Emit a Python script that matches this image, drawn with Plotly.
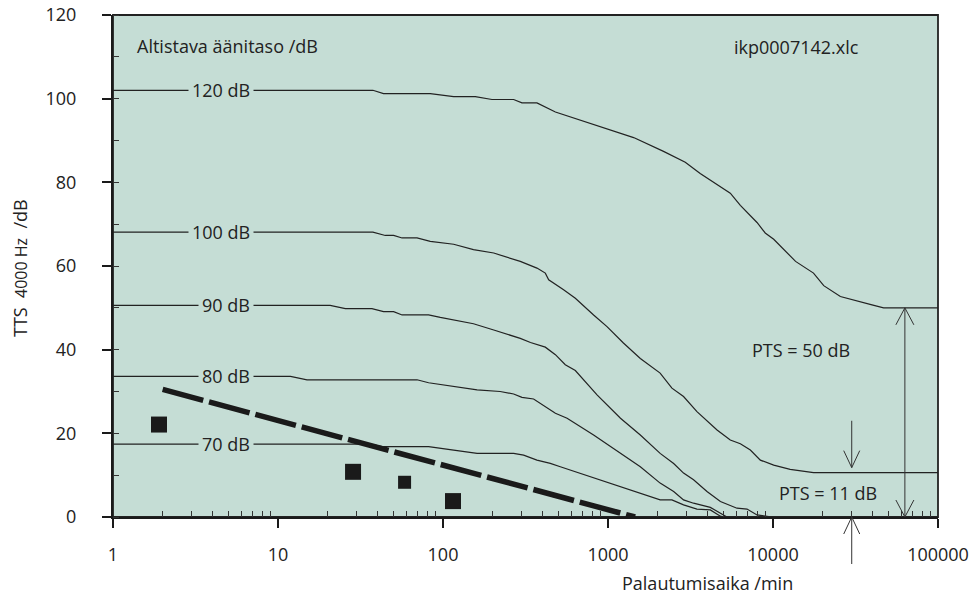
import numpy as np
import plotly.graph_objects as go

# ---------------- data ----------------
level_labels = ["120 dB", "100 dB", "90 dB", "80 dB", "70 dB"]

c120_x = [1, 37.6, 43.6, 83.7, 116, 157, 198, 268, 301, 371, 480, 818, 986, 1430, 2170, 2940,
          3620, 5510, 6340, 8000, 8970, 10100, 13700, 17600, 20300, 25600, 39800, 46800, 100000]
c120_y = [102, 102, 101.2, 101.2, 100.5, 100.5, 99.8, 99.8, 99.0, 99.0, 96.8, 93.9, 92.8, 90.7, 87.4, 84.8,
          82.1, 77.4, 74.5, 70.4, 67.9, 66.4, 61.1, 58.3, 55.3, 52.7, 50.7, 50.0, 50.0]

c100_x = [1, 37.6, 44.7, 50.2, 56.5, 69.6, 83.7, 116, 153, 203, 294, 371, 417, 437, 538, 634, 818, 986,
          1240, 1570, 2070, 2440, 2870, 3460, 4580, 5510, 6340, 7290, 8380, 10100, 12700, 17600, 100000]
c100_y = [68.1, 68.1, 67.3, 67.3, 66.7, 66.7, 65.9, 65.2, 63.9, 63.1, 61.1, 59.5, 58.3, 56.7, 54.3, 52.3, 48.3, 45.5,
          41.6, 37.9, 34.4, 30.8, 28.8, 25.2, 20.8, 18.4, 17.5, 16.0, 13.6, 12.4, 11.4, 10.6, 10.6]

c90_x = [1, 20.7, 25.6, 37.1, 43.6, 50.2, 56.5, 81.8, 96.3, 153, 203, 294, 339, 417, 480, 551, 634, 711, 858,
         1190, 1570, 2070, 2500, 2870, 3300, 3980, 4800, 6050, 6960, 8000, 9400, 9900]
c90_y = [50.6, 50.6, 49.8, 49.8, 49.1, 49.1, 48.3, 48.3, 47.7, 46.2, 44.7, 42.7, 41.7, 40.6, 38.8, 36.4, 35.0, 32.9, 29.2,
         23.6, 19.6, 15.2, 12.8, 10.5, 8.9, 6.1, 3.7, 2.1, 1.9, 0.5, 0.2, 0]

c80_x = [1, 11.9, 15.0, 69.6, 81.8, 116, 161, 222, 268, 301, 354, 480, 565, 818, 1110, 1570, 2070, 2500,
         2870, 3300, 4170, 4800, 5260]
c80_y = [33.6, 33.6, 32.8, 32.8, 32.1, 31.3, 30.4, 30.0, 29.4, 28.6, 28.2, 24.8, 23.6, 19.6, 16.0, 12.0, 8.1, 6.1,
         4.1, 3.3, 2.3, 0.9, 0]

c70_x = [1, 36.3, 43.5, 81.8, 116, 161, 268, 308, 371, 447, 514, 1030, 1570, 2070, 2440, 2870, 3460, 4170, 4800, 5020]
c70_y = [17.4, 17.4, 16.8, 16.8, 16.0, 15.2, 15.2, 14.8, 13.6, 12.8, 12.0, 8.1, 5.8, 4.1, 4.1, 2.9, 1.9, 1.7, 0.2, 0]

label_levels = [102, 68.1, 50.6, 33.6, 17.4]
label_x = 7.2

trend_x = [2, 1460]
trend_y = [30.5, 0]

meas_x = [1.9, 28.5, 58.5, 115]
meas_y = [22.1, 10.8, 8.3, 3.8]

pts_high = 50      # PTS = 50 dB
pts_low_tip = 11.8
pts_low_tail = 23
pts_x_double = 63000
pts_x_single = 30000

x_tickvals = [1, 10, 100, 1000, 10000, 100000]
x_ticktext = ["1", "10", "100", "1000", "10000", "100000"]
y_tickvals = [0, 20, 40, 60, 80, 100, 120]

# ---------------- style ----------------
BG = "#c5ddd5"
INK = "#222222"
FONT = "Open Sans"
FS = 18

fig = go.Figure()

curves = [(c120_x, c120_y), (c100_x, c100_y), (c90_x, c90_y), (c80_x, c80_y), (c70_x, c70_y)]
for (xs, ys), name in zip(curves, level_labels):
    fig.add_trace(go.Scatter(x=xs, y=ys, mode="lines", name=name,
                             line=dict(color=INK, width=1.2), showlegend=False))

fig.add_trace(go.Scatter(x=trend_x, y=trend_y, mode="lines",
                         line=dict(color="#1a1a1a", width=5.5, dash="42px,6px"), showlegend=False))

fig.add_trace(go.Scatter(x=meas_x, y=meas_y, mode="markers", opacity=1,
                         marker=dict(symbol="square", size=[16, 16, 13, 16], color="#1a1a1a",
                                     opacity=1, line=dict(width=0)), showlegend=False))

annotations = []
for lab, lev in zip(level_labels, label_levels):
    annotations.append(dict(x=np.log10(label_x), y=lev, xref="x", yref="y", text=lab,
                            showarrow=False, xanchor="right", yanchor="middle",
                            bgcolor=BG, borderpad=3, font=dict(family=FONT, size=FS, color=INK)))

def txt(x, y, t, xa="left", angle=0, size=FS):
    return dict(x=x, y=y, xref="paper", yref="paper", text=t, showarrow=False,
                xanchor=xa, yanchor="middle", textangle=angle,
                font=dict(family=FONT, size=size, color=INK))

annotations += [
    txt(0.0267, 0.9376, "Altistava äänitaso /dB"),
    txt(0.750, 0.9369, "ikp0007142.xlc"),
    txt(0.834, 0.3327, "PTS = 50 dB", xa="center"),
    txt(0.8671, 0.0484, "PTS = 11 dB", xa="center"),
    txt(0.7212, -0.1315, "Palautumisaika /min", xa="center"),
    txt(-0.1127, 0.496, "TTS\u00a0\u00a0<span style='font-size:16px'>4000 Hz</span>\u00a0\u00a0/dB",
        xa="center", angle=-90),
]

ARW = dict(color="#333333", width=1)
shapes = [
    # frame (top/right border)
    dict(type="rect", xref="paper", yref="paper", x0=0, x1=1, y0=0, y1=1,
         line=dict(color="#222222", width=1.8), layer="below"),
    # double arrow for PTS = 50 dB
    dict(type="line", xref="x", yref="y", x0=pts_x_double, x1=pts_x_double, y0=0, y1=pts_high, line=ARW),
    dict(type="path", xref="x", yref="y", xsizemode="pixel", ysizemode="pixel",
         xanchor=pts_x_double, yanchor=pts_high, path="M-9,-17 L0,0 L9,-17", line=ARW),
    dict(type="path", xref="x", yref="y", xsizemode="pixel", ysizemode="pixel",
         xanchor=pts_x_double, yanchor=0, path="M-9,17 L0,0 L9,17", line=ARW),
    # down arrow for PTS = 11 dB
    dict(type="line", xref="x", yref="y", x0=pts_x_single, x1=pts_x_single, y0=pts_low_tail, y1=pts_low_tip, line=ARW),
    dict(type="path", xref="x", yref="y", xsizemode="pixel", ysizemode="pixel",
         xanchor=pts_x_single, yanchor=pts_low_tip, path="M-8,17 L0,0 L8,17", line=ARW),
    # up arrow below axis
    dict(type="path", xref="paper", yref="paper", xsizemode="pixel", ysizemode="pixel",
         xanchor=np.log10(pts_x_single) / 5.0, yanchor=0,
         path="M0,0 L0,-47 M-8,-17 L0,0 L8,-17", line=ARW),
]

minor_x = [m * 10 ** d for d in range(5) for m in range(2, 10)]

fig.update_layout(
    width=971, height=597,
    margin=dict(l=113, r=33, t=15, b=80, autoexpand=False),
    paper_bgcolor="white", plot_bgcolor=BG,
    font=dict(family=FONT, size=FS, color=INK),
    annotations=annotations, shapes=shapes,
    xaxis=dict(type="log", range=[0, 5], showgrid=False, zeroline=False, automargin=False,
               showline=True, linecolor="#1a1a1a", linewidth=2,
               tickmode="array", tickvals=x_tickvals, ticktext=x_ticktext,
               ticks="outside", ticklen=9, tickwidth=1.5, tickcolor="#1a1a1a",
               ticklabelstandoff=11,
               minor=dict(ticks="inside", ticklen=6, tickwidth=1, tickcolor="#333",
                          tickmode="array", tickvals=minor_x, showgrid=False),
               tickfont=dict(family=FONT, size=FS, color=INK)),
    yaxis=dict(range=[0, 120], showgrid=False, zeroline=False, automargin=False,
               showline=True, linecolor="#1a1a1a", linewidth=2,
               tickmode="array", tickvals=y_tickvals,
               ticks="outside", ticklen=9, tickwidth=1.5, tickcolor="#1a1a1a",
               ticklabelstandoff=22,
               minor=dict(ticks="inside", ticklen=6, tickwidth=1, tickcolor="#333",
                          dtick=10, showgrid=False),
               tickfont=dict(family=FONT, size=FS, color=INK)),
)

fig.write_html("out.html")
